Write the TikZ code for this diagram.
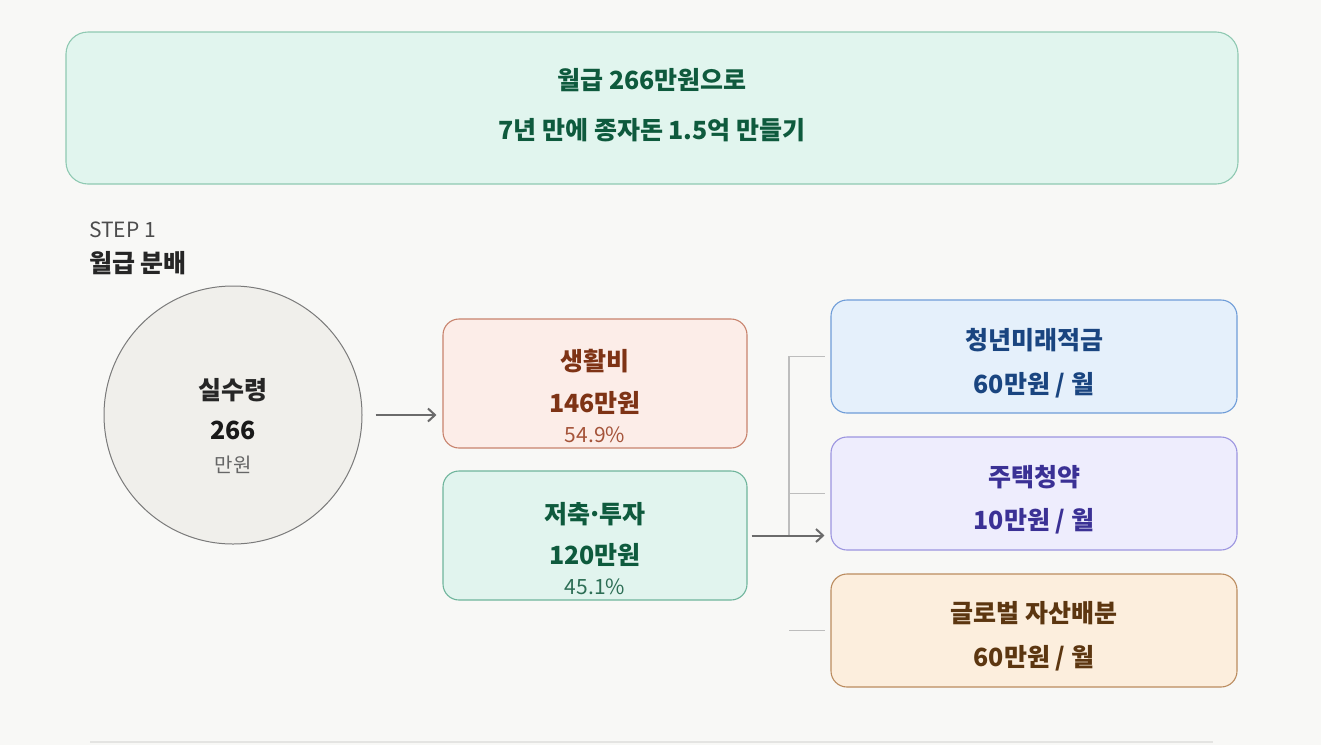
\documentclass[tikz,border=0pt]{standalone}
\usepackage{fontspec}
\setmainfont{Noto Sans CJK KR}
\usetikzlibrary{arrows.meta, positioning, calc}

\definecolor{pagebg}{HTML}{F8F8F6}
\definecolor{mintfill}{HTML}{E1F5EE}
\definecolor{mintline}{HTML}{8FC9B2}
\definecolor{mintdark}{HTML}{0E5A3D}
\definecolor{mintpct}{HTML}{2D6E55}
\definecolor{savefill}{HTML}{E1F4EE}
\definecolor{saveline}{HTML}{6FB59C}
\definecolor{livefill}{HTML}{FCEDE8}
\definecolor{liveline}{HTML}{C8836D}
\definecolor{livedark}{HTML}{7E3315}
\definecolor{livepct}{HTML}{A5543A}
\definecolor{bluefill}{HTML}{E5F0FB}
\definecolor{blueline}{HTML}{6F9DD8}
\definecolor{bluedark}{HTML}{1A4580}
\definecolor{purpfill}{HTML}{EEEDFD}
\definecolor{purpline}{HTML}{9C95E0}
\definecolor{purpdark}{HTML}{3B3195}
\definecolor{orngfill}{HTML}{FCEEDD}
\definecolor{orngline}{HTML}{BB8C5F}
\definecolor{orngdark}{HTML}{5C3610}
\definecolor{circfill}{HTML}{F0EFEB}
\definecolor{circline}{HTML}{7A7A7A}
\definecolor{arrowgray}{HTML}{6B6B6B}
\definecolor{treegray}{HTML}{BDBDBD}
\definecolor{rulegray}{HTML}{E4E4E2}

\begin{document}
\begin{tikzpicture}[
    x=1pt, y=-1pt,
    box/.style={draw, rounded corners=16pt, line width=1.1pt, minimum width=304pt, minimum height=129pt},
    plan/.style={draw, rounded corners=16pt, line width=1.1pt, minimum width=406pt, minimum height=113pt},
    title/.style={inner sep=0pt, font=\fontsize{25}{29}\selectfont\bfseries},
    amount/.style={inner sep=0pt, font=\fontsize{25}{29}\selectfont\bfseries},
    pct/.style={inner sep=0pt, font=\fontsize{21}{25}\selectfont},
    arr/.style={-{Straight Barb[length=7pt, width=13pt]}, line width=2pt, draw=arrowgray},
    tree/.style={draw=treegray, line width=1.2pt}
]
    \fill[pagebg] (0,0) rectangle (1321,745);

    % headline
    \node[draw=mintline, fill=mintfill, rounded corners=22pt, line width=1.1pt,
          minimum width=1172pt, minimum height=152pt] (goal) at (652,108) {};
    \node[inner sep=0pt, text=mintdark, font=\fontsize{25}{29}\selectfont\bfseries] (goal1) at (652,80) {월급 266만원으로};
    \node[inner sep=0pt, text=mintdark, font=\fontsize{25}{29}\selectfont\bfseries] (goal2) at (652,130) {7년 만에 종자돈 1.5억 만들기};

    % step heading
    \node[inner sep=0pt, anchor=west, text=black!70, font=\fontsize{21}{25}\selectfont] (steptag) at (89,230) {STEP 1};
    \node[inner sep=0pt, anchor=west, text=black!85, font=\fontsize{25}{29}\selectfont\bfseries] (stepname) at (89,263) {월급 분배};

    % income
    \node[circle, draw=circline, fill=circfill, line width=1pt, minimum size=258pt] (income) at (233,415) {};
    \node[inner sep=0pt, text=black!85, font=\fontsize{25}{29}\selectfont\bfseries] (incomeT) at (233,390) {실수령};
    \node[inner sep=0pt, text=black!90, font=\fontsize{25}{29}\selectfont\bfseries] (incomeN) at (233,430) {266};
    \node[inner sep=0pt, text=black!60, font=\fontsize{20}{24}\selectfont] (incomeU) at (233,465) {만원};

    % split
    \node[box, draw=liveline, fill=livefill] (living) at (595,383.5) {};
    \node[title, text=livedark] (livingT) at (595,361) {생활비};
    \node[amount, text=livedark] (livingN) at (595,403) {146만원};
    \node[pct, text=livepct] (livingP) at (595,435) {54.9\%};

    \node[box, draw=saveline, fill=savefill] (saving) at (595,535.5) {};
    \node[title, text=mintdark] (savingT) at (595,514) {저축{\kern-0.12em·\kern-0.12em}투자};
    \node[amount, text=mintdark] (savingN) at (595,555) {120만원};
    \node[pct, text=mintpct] (savingP) at (595,587) {45.1\%};

    % plans
    \node[plan, draw=blueline, fill=bluefill] (youth) at (1034,356.5) {};
    \node[title, text=bluedark] (youthT) at (1034,340) {청년미래적금};
    \node[amount, text=bluedark] (youthN) at (1034,385) {60만원 / 월};

    \node[plan, draw=purpline, fill=purpfill] (housing) at (1034,493.5) {};
    \node[title, text=purpdark] (housingT) at (1034,477) {주택청약};
    \node[amount, text=purpdark] (housingN) at (1034,521) {10만원 / 월};

    \node[plan, draw=orngline, fill=orngfill] (global) at (1034,630.5) {};
    \node[title, text=orngdark] (globalT) at (1034,613) {글로벌 자산배분};
    \node[amount, text=orngdark] (globalN) at (1034,658) {60만원 / 월};

    \coordinate (fork) at (789,536);

    \draw[tree] (fork) |- ([xshift=-5pt]youth.west);
    \draw[tree] (fork |- housing.west) -- ([xshift=-5pt]housing.west);
    \draw[tree] (fork |- global.west) -- ([xshift=-5pt]global.west);

    \draw[arr] ([xshift=13pt]income.east) -- ([xshift=-6pt]living.west |- income.east);
    \draw[arr] (saving.east) ++(4pt,0) -- ([xshift=-6pt]housing.west |- saving.east);

    \draw[draw=rulegray, line width=2pt] (90,742) -- (1213,742);
\end{tikzpicture}
\end{document}
